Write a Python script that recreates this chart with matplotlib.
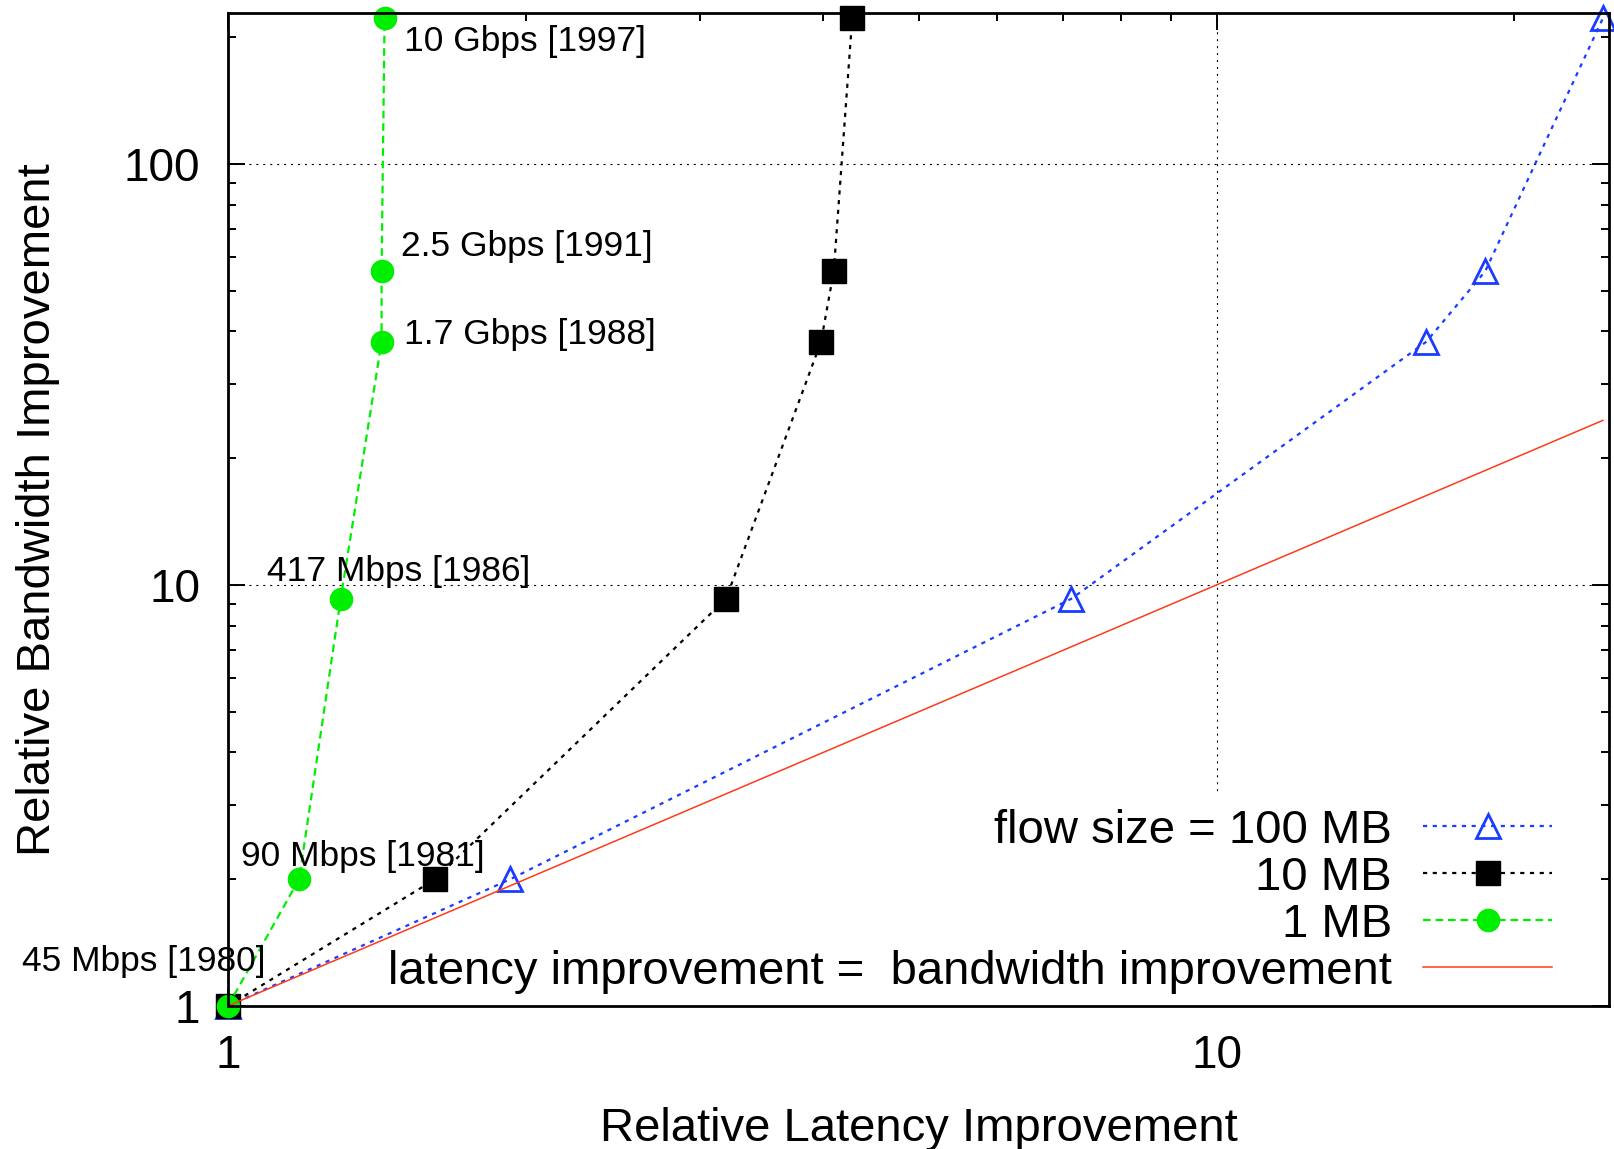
import numpy as np
import matplotlib
matplotlib.use("Agg")
import matplotlib.pyplot as plt
from matplotlib import ticker

plt.rcParams['font.family'] = ['Liberation Sans', 'DejaVu Sans']
plt.rcParams['lines.scale_dashes'] = False

# === DATA ===
# bandwidth improvement relative to 45 Mbps (1980)
bw_improvement = [1, 2, 9.27, 37.8, 55.6, 222]
point_labels = ["45 Mbps [1980]", "90 Mbps [1981]", "417 Mbps [1986]",
                "1.7 Gbps [1988]", "2.5 Gbps [1991]", "10 Gbps [1997]"]

# latency improvement per flow size
lat_100mb = [1, 1.93, 7.13, 16.3, 18.7, 24.6]
lat_10mb = [1, 1.62, 3.19, 3.98, 4.10, 4.28]
lat_1mb = [1, 1.18, 1.30, 1.43, 1.43, 1.44]

# reference line: latency improvement = bandwidth improvement
equal_x = [1, 24.6]
equal_y = [1, 24.6]

legend_labels = ["flow size = 100 MB", "10 MB", "1 MB",
                 "latency improvement =  bandwidth improvement"]

# label offsets (points) from each green point
label_offsets = [(-148, 32), (-42, 16), (-53, 20), (16, 5), (14, 18), (14, -17)]

# === DRAWING ===
fig = plt.figure(figsize=(16.15, 11.49), dpi=100)
ax = fig.add_axes([0.1412, 0.1245, 0.8551, 0.8645])
ax.set_xscale('log')
ax.set_yscale('log')

blue = '#1a3cff'
green = '#00ee00'
red = '#ff3a1a'

ax.plot(lat_100mb, bw_improvement, color=blue, lw=1.6, dashes=(3, 4),
        marker='^', ms=17, mfc='none', mec=blue, mew=2,
        clip_on=False, label=legend_labels[0], zorder=3)
ax.plot(lat_10mb, bw_improvement, color='black', lw=1.6, dashes=(3, 4),
        marker='s', ms=17.5, mfc='black', mec='black',
        clip_on=False, label=legend_labels[1], zorder=4)
ax.plot(lat_1mb, bw_improvement, color=green, lw=1.6, dashes=(5.5, 3.5),
        marker='o', ms=16, mfc=green, mec=green,
        clip_on=False, label=legend_labels[2], zorder=5)
ax.plot(equal_x, equal_y, color=red, lw=1.1, label=legend_labels[3], zorder=6)

for x, y, txt, off in zip(lat_1mb, bw_improvement, point_labels, label_offsets):
    ax.annotate(txt, (x, y), xytext=off, textcoords='offset points',
                ha='left', va='center', fontsize=25.5, zorder=7)

ax.set_xlim(1, 24.95)
ax.set_ylim(1, 228.7)

fmt = ticker.FuncFormatter(lambda v, _: f'{v:g}')
ax.xaxis.set_major_formatter(fmt)
ax.yaxis.set_major_formatter(fmt)
ax.xaxis.set_minor_formatter(ticker.NullFormatter())
ax.yaxis.set_minor_formatter(ticker.NullFormatter())
ax.xaxis.set_major_locator(ticker.LogLocator(base=10))
ax.yaxis.set_major_locator(ticker.LogLocator(base=10))
ax.xaxis.set_minor_locator(ticker.LogLocator(base=10, subs=range(2, 10)))
ax.yaxis.set_minor_locator(ticker.LogLocator(base=10, subs=range(2, 10)))

ax.tick_params(which='both', direction='in', top=True, right=True,
               width=1.4, labelsize=33, pad=20)
ax.tick_params(which='major', length=12)
ax.tick_params(which='minor', length=6)
for s in ax.spines.values():
    s.set_linewidth(2)
    s.set_zorder(8)

ax.set_axisbelow(True)
ax.grid(True, which='major', color='black', lw=0.8, dashes=(1.5, 3.5))

ax.set_xlabel("Relative Latency Improvement", fontsize=34, labelpad=21)
ax.set_ylabel("Relative Bandwidth Improvement", fontsize=34, labelpad=46)

leg = ax.legend(loc='lower right', bbox_to_anchor=(0.969, -0.002),
                markerfirst=False, fontsize=34, handlelength=2.73,
                handletextpad=0.66, labelspacing=0.064, borderpad=0.3,
                borderaxespad=0, frameon=True, fancybox=False,
                facecolor='white', edgecolor='none', framealpha=1)
leg.set_zorder(1)

fig.savefig("out.png", dpi=100)
